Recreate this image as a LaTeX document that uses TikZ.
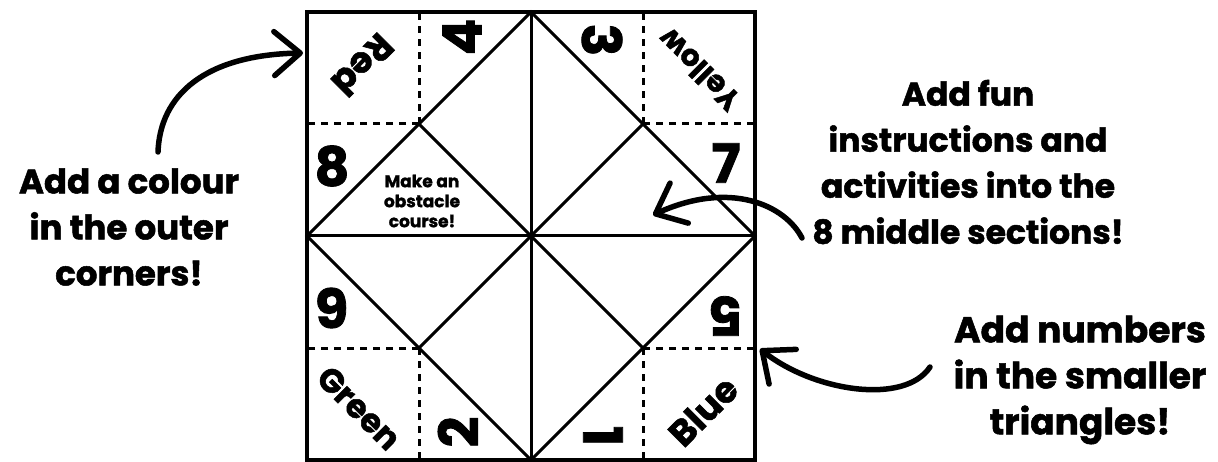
\documentclass[tikz,border=0pt]{standalone}
\usepackage{fontspec}
\setmainfont{Poppins}[BoldFeatures={FakeBold=1.5}]
\usetikzlibrary{arrows.meta}
\definecolor{inkblack}{HTML}{000000}

\begin{document}
\begin{tikzpicture}[x=1pt, y=-1pt,
    frame/.style={draw=inkblack, line width=4pt},
    fold/.style={draw=inkblack, line width=3pt},
    cutline/.style={draw=inkblack, line width=3pt, dash pattern=on 7pt off 6pt},
    colourlabel/.style={font=\fontsize{#1}{40}\selectfont\bfseries, inner sep=0pt},
    numlabel/.style={font=\fontsize{54}{58}\selectfont\bfseries, inner sep=0pt},
    tasklabel/.style={font=\fontsize{17}{20}\selectfont\bfseries, align=center, inner sep=0pt},
    callout/.style={font=\fontsize{#1}{46}\selectfont\bfseries, align=center, inner sep=0pt},
    pointer/.style={-{Straight Barb[length=26pt, width=44pt, round]}, line width=5.5pt, inkblack, line cap=round}
  ]
    \useasboundingbox (0,0) rectangle (1218,462);

    % paper corners and fold points
    \coordinate (NW) at (307,12);
    \coordinate (SE) at (755,460);
    \coordinate (N) at (531,12);
    \coordinate (E) at (755,236);
    \coordinate (S) at (531,460);
    \coordinate (W) at (307,236);
    \coordinate (q1) at (419,124);
    \coordinate (q2) at (643,124);
    \coordinate (q3) at (643,348);
    \coordinate (q4) at (419,348);

    \draw[fold] (N) -- (E) -- (S) -- (W) -- cycle;
    \draw[fold] (N) -- (S);
    \draw[fold] (W) -- (E);
    \draw[fold] (q1) -- (q3);
    \draw[fold] (q2) -- (q4);

    \draw[cutline] (q1) -- (q1 |- N);
    \draw[cutline] (q1) -- (q1 -| W);
    \draw[cutline] (q2) -- (q2 |- N);
    \draw[cutline] (q2) -- (q2 -| E);
    \draw[cutline] (q3) -- (q3 |- S);
    \draw[cutline] (q3) -- (q3 -| E);
    \draw[cutline] (q4) -- (q4 |- S);
    \draw[cutline] (q4) -- (q4 -| W);
    \draw[frame] (NW) rectangle (SE);

    % outer corners
    \node[colourlabel=36, rotate=225] (red) at (363,65) {Red};
    \node[colourlabel=30, rotate=135] (yellow) at (699,70) {Yellow};
    \node[colourlabel=33, rotate=-45] (green) at (359,408) {Green};
    \node[colourlabel=36, rotate=45] (blue) at (703,411) {Blue};

    % small triangles
    \node[numlabel, rotate=90] (n4) at (462,37) {4};
    \node[numlabel, rotate=-90] (n3) at (602,40) {3};
    \node[numlabel] (n7) at (726,163) {7};
    \node[numlabel, rotate=180] (n5) at (726,316) {5};
    \node[numlabel, rotate=-90] (n1) at (603,436) {1};
    \node[numlabel, rotate=90] (n2) at (458,432) {2};
    \node[numlabel, rotate=180] (n6) at (332,308) {6};
    \node[numlabel] (n8) at (332,166) {8};

    \node[tasklabel] (task) at (422,201) {Make an\\obstacle\\course!};

    % notes round the paper
    \node[callout=34] (colournote) at (129,227) {Add a colour\\in the outer\\corners!};
    \node[callout=33] (middlenote) at (968,162) {Add fun\\instructions and\\activities into the\\8 middle sections!};
    \node[callout=36] (numbernote) at (1080,380) {Add numbers\\in the smaller\\triangles!};

    \coordinate (colourtail) at (158,152);
    \coordinate (colourtip) at (303,53);
    \coordinate (middletail) at (802,238);
    \coordinate (middletip) at (653,215);
    \coordinate (numbertail) at (930,367);
    \coordinate (numbertip) at (760,349);

    \draw[pointer] (colourtail) .. controls (160,95) and (205,55) .. (colourtip);
    \draw[pointer] (middletail) .. controls (785,205) and (730,180) .. (middletip);
    \draw[pointer] (numbertail) .. controls (905,405) and (815,392) .. (numbertip);
  \end{tikzpicture}
\end{document}
